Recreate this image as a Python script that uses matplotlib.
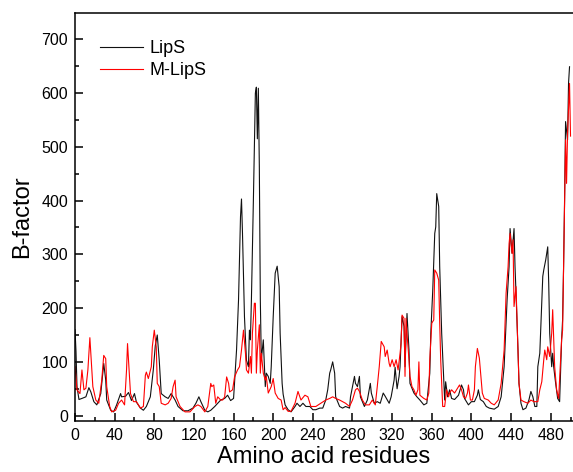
import matplotlib
matplotlib.use('Agg')
import matplotlib.pyplot as plt
from matplotlib.ticker import MultipleLocator

# B-factor per residue
lips_res = [0, 1, 2, 4, 7, 11, 14, 16, 19, 22, 26, 29, 31, 32, 36, 39, 42, 46, 47, 51,
            54, 57, 60, 62, 66, 69, 72, 76, 79, 81, 83, 85, 87, 91, 94, 97, 101, 104, 109, 114,
            119, 122, 125, 127, 131, 134, 137, 141, 144, 147, 151, 154, 157, 160, 162, 163, 165, 167, 168, 169,
            171, 173, 175, 176, 177, 178, 180, 182, 183, 184, 185, 186, 187, 188, 190, 192, 193, 195, 197, 198,
            200, 202, 204, 206, 207, 208, 209, 210, 212, 215, 218, 222, 224, 227, 230, 233, 237, 240, 243, 247,
            250, 253, 255, 257, 258, 260, 262, 263, 267, 270, 273, 277, 278, 282, 283, 285, 287, 288, 292, 295,
            298, 299, 302, 305, 308, 311, 313, 317, 319, 322, 323, 325, 327, 328, 330, 332, 333, 335, 337, 338,
            342, 345, 348, 352, 355, 358, 359, 361, 363, 364, 365, 367, 368, 370, 372, 373, 374, 376, 378, 380,
            383, 387, 390, 392, 393, 397, 400, 403, 406, 407, 409, 412, 415, 418, 423, 427, 430, 433, 436, 438,
            439, 441, 443, 444, 445, 447, 448, 450, 452, 455, 458, 460, 462, 464, 466, 467, 469, 472, 473, 475,
            477, 478, 479, 481, 482, 483, 485, 487, 489, 491, 492, 493, 494, 495, 497, 498, 499]
lips_b = [160, 120, 54, 30, 32, 35, 52, 44, 26, 20, 41, 97, 66, 29, 10, 7, 20, 41, 35, 36,
          43, 28, 41, 25, 14, 10, 17, 35, 85, 130, 150, 103, 41, 35, 32, 41, 29, 17, 9, 9,
          14, 23, 35, 26, 10, 7, 10, 17, 23, 29, 32, 38, 28, 32, 91, 122, 215, 370, 403, 339,
          184, 103, 91, 159, 141, 215, 401, 600, 611, 515, 609, 463, 215, 103, 141, 54, 79, 73, 60, 91,
          184, 265, 278, 240, 153, 104, 60, 40, 20, 11, 7, 17, 23, 17, 23, 17, 17, 11, 11, 14,
          14, 29, 48, 79, 85, 100, 79, 35, 17, 14, 17, 14, 35, 73, 60, 54, 73, 35, 17, 29,
          60, 42, 23, 26, 23, 42, 36, 23, 35, 66, 90, 50, 73, 91, 184, 166, 91, 190, 122, 60,
          42, 35, 29, 20, 23, 79, 153, 234, 339, 351, 413, 389, 277, 153, 73, 29, 63, 35, 48, 32,
          30, 38, 57, 48, 32, 20, 26, 26, 38, 48, 30, 26, 17, 14, 12, 17, 35, 91, 215, 277,
          348, 302, 348, 277, 228, 122, 60, 23, 11, 14, 29, 45, 35, 17, 17, 91, 116, 259, 271, 290,
          314, 246, 153, 91, 116, 91, 60, 32, 26, 141, 178, 277, 401, 547, 513, 618, 649]

mlips_res = [0, 2, 5, 7, 9, 11, 13, 15, 16, 18, 21, 24, 27, 29, 31, 32, 35, 37, 41, 44,
             47, 50, 52, 53, 54, 56, 59, 62, 66, 69, 71, 72, 74, 77, 78, 80, 82, 83, 85, 87,
             91, 94, 97, 99, 101, 102, 106, 111, 116, 121, 124, 127, 131, 134, 137, 138, 140, 142, 144, 147,
             149, 151, 153, 155, 156, 159, 161, 164, 166, 168, 170, 172, 173, 175, 177, 178, 179, 181, 182, 183,
             184, 186, 187, 188, 190, 192, 193, 195, 198, 200, 202, 205, 208, 210, 212, 215, 218, 222, 225, 228,
             232, 235, 238, 243, 248, 253, 257, 260, 263, 267, 270, 273, 277, 280, 283, 285, 287, 290, 293, 297,
             300, 303, 305, 307, 309, 312, 313, 315, 317, 318, 320, 322, 324, 326, 328, 329, 330, 332, 333, 334,
             335, 337, 338, 340, 342, 344, 346, 347, 348, 352, 355, 357, 358, 360, 362, 363, 365, 367, 368, 369,
             371, 373, 375, 377, 378, 380, 383, 386, 388, 390, 392, 394, 396, 397, 399, 401, 403, 404, 406, 408,
             409, 411, 413, 417, 420, 423, 427, 430, 433, 435, 437, 438, 439, 441, 442, 443, 445, 447, 448, 450,
             453, 457, 460, 463, 467, 469, 471, 473, 474, 476, 477, 479, 481, 482, 484, 486, 488, 491, 492, 493,
             495, 496, 497, 499, 500]
mlips_b = [91, 48, 41, 85, 48, 51, 85, 145, 115, 54, 29, 23, 66, 112, 106, 54, 17, 7, 10, 23,
           29, 20, 85, 134, 103, 41, 26, 26, 14, 17, 75, 81, 69, 91, 128, 159, 128, 60, 54, 23,
           20, 23, 32, 54, 66, 35, 17, 7, 7, 17, 20, 17, 7, 17, 60, 54, 57, 23, 35, 29,
           29, 35, 72, 60, 44, 48, 72, 85, 91, 122, 159, 116, 85, 79, 110, 79, 153, 209, 209, 79,
           122, 169, 79, 116, 79, 66, 73, 42, 54, 69, 42, 32, 29, 11, 15, 8, 8, 23, 45, 29,
           38, 35, 17, 17, 23, 29, 32, 35, 32, 29, 26, 23, 17, 29, 48, 51, 45, 29, 20, 20,
           29, 20, 54, 91, 138, 128, 110, 122, 97, 91, 104, 91, 104, 85, 116, 134, 187, 181, 73, 181,
           153, 104, 73, 54, 48, 38, 48, 100, 38, 32, 29, 42, 104, 172, 178, 271, 265, 252, 172, 104,
           17, 17, 48, 35, 42, 48, 42, 51, 57, 48, 35, 32, 42, 57, 29, 29, 48, 91, 125, 107,
           85, 42, 32, 29, 23, 20, 29, 60, 122, 228, 277, 320, 339, 302, 327, 203, 240, 122, 60, 29,
           26, 23, 29, 26, 26, 48, 63, 104, 122, 104, 128, 110, 153, 197, 91, 48, 32, 141, 159, 277,
           513, 432, 525, 618, 520]

plt.rcParams['font.family'] = ['Liberation Sans', 'DejaVu Sans']

fig = plt.figure(figsize=(5.73, 4.72), dpi=100)
ax = fig.add_axes([75 / 573, 1 - 421 / 472, 1 - 75 / 573, (421 - 13) / 472])

ax.plot(lips_res, lips_b, color='#111111', lw=0.8, label='LipS')
ax.plot(mlips_res, mlips_b, color='red', lw=0.8, label='M-LipS')

ax.set_xlim(0, 502.5)
ax.set_ylim(-10, 749)
ax.xaxis.set_major_locator(MultipleLocator(40))
ax.xaxis.set_minor_locator(MultipleLocator(20))
ax.yaxis.set_major_locator(MultipleLocator(100))
ax.yaxis.set_minor_locator(MultipleLocator(50))
ax.tick_params(which='both', direction='in', width=1.1, labelsize=11.5, pad=5)
ax.tick_params(which='major', length=5.5)
ax.tick_params(which='minor', length=3)
ax.spines['right'].set_visible(False)
for s in ['left', 'bottom', 'top']:
    ax.spines[s].set_linewidth(1.1)

ax.set_xlabel('Amino acid residues', fontsize=17, labelpad=2)
ax.set_ylabel('B-factor', fontsize=17, labelpad=6)

ax.legend(loc='upper left', bbox_to_anchor=(0.025, 0.965), frameon=False, fontsize=13,
          handlelength=2.4, handletextpad=0.35, labelspacing=0.3, borderpad=0.2)

fig.savefig('out.png', dpi=100)
